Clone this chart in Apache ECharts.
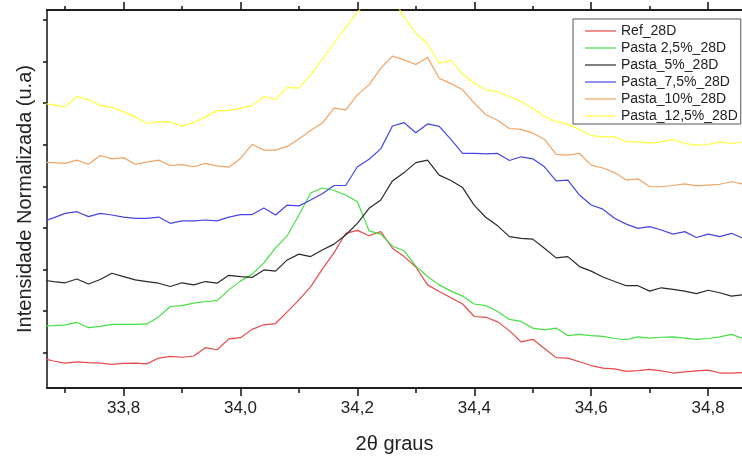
<!DOCTYPE html>
<html>
<head>
<meta charset="utf-8">
<script src="https://cdn.jsdelivr.net/npm/echarts@6/dist/echarts.min.js"></script>
<style>
  html, body { margin: 0; padding: 0; background: #fff; }
  #chart { width: 742px; height: 459px; }
</style>
</head>
<body>
<div id="chart"></div>
<script>
// 2θ positions of the scan (degrees)
const twoTheta = [
  33.66, 33.68, 33.70, 33.72, 33.74, 33.76, 33.78, 33.80, 33.82, 33.84,
  33.86, 33.88, 33.90, 33.92, 33.94, 33.96, 33.98, 34.00, 34.02, 34.04,
  34.06, 34.08, 34.10, 34.12, 34.14, 34.16, 34.18, 34.20, 34.22, 34.24,
  34.26, 34.28, 34.30, 34.32, 34.34, 34.36, 34.38, 34.40, 34.42, 34.44,
  34.46, 34.48, 34.50, 34.52, 34.54, 34.56, 34.58, 34.60, 34.62, 34.64,
  34.66, 34.68, 34.70, 34.72, 34.74, 34.76, 34.78, 34.80, 34.82, 34.84,
  34.86
];

// Normalized intensity (u.a), stacked with an offset per sample
const ref28D = [
  0.87, 0.80, 0.75, 0.78, 0.76, 0.75, 0.72, 0.74, 0.75, 0.73,
  0.87, 0.91, 0.89, 0.92, 1.12, 1.07, 1.33, 1.36, 1.56, 1.67,
  1.70, 1.98, 2.27, 2.58, 3.01, 3.40, 3.87, 3.94, 3.81, 3.91,
  3.51, 3.31, 3.06, 2.63, 2.47, 2.32, 2.17, 1.87, 1.85, 1.74,
  1.53, 1.26, 1.32, 1.10, 0.88, 0.87, 0.78, 0.69, 0.63, 0.61,
  0.55, 0.57, 0.60, 0.56, 0.51, 0.54, 0.56, 0.58, 0.51, 0.51,
  0.52
];
const pasta25 = [
  1.64, 1.65, 1.67, 1.73, 1.60, 1.63, 1.68, 1.68, 1.68, 1.69,
  1.86, 2.11, 2.13, 2.19, 2.23, 2.25, 2.51, 2.72, 2.89, 3.16,
  3.52, 3.81, 4.31, 4.84, 4.96, 4.90, 4.79, 4.63, 3.93, 3.85,
  3.56, 3.45, 3.08, 2.83, 2.63, 2.48, 2.36, 2.17, 2.13, 1.99,
  1.80, 1.75, 1.59, 1.55, 1.59, 1.41, 1.44, 1.41, 1.39, 1.34,
  1.31, 1.38, 1.35, 1.37, 1.38, 1.35, 1.32, 1.34, 1.38, 1.44,
  1.34
];
const pasta5 = [
  2.75, 2.71, 2.68, 2.77, 2.65, 2.76, 2.91, 2.83, 2.75, 2.71,
  2.67, 2.59, 2.68, 2.63, 2.71, 2.67, 2.86, 2.83, 2.81, 2.99,
  2.96, 3.23, 3.37, 3.31, 3.47, 3.61, 3.83, 4.11, 4.47, 4.67,
  5.13, 5.33, 5.57, 5.63, 5.27, 5.14, 4.97, 4.54, 4.25, 4.05,
  3.79, 3.75, 3.73, 3.51, 3.28, 3.31, 3.07, 2.96, 2.82, 2.71,
  2.61, 2.61, 2.48, 2.56, 2.52, 2.48, 2.42, 2.50, 2.44, 2.36,
  2.39
];
const pasta75 = [
  4.15, 4.24, 4.35, 4.39, 4.27, 4.35, 4.31, 4.26, 4.23, 4.23,
  4.26, 4.11, 4.17, 4.17, 4.19, 4.17, 4.26, 4.32, 4.32, 4.48,
  4.31, 4.55, 4.53, 4.67, 4.82, 5.02, 5.02, 5.47, 5.65, 5.90,
  6.45, 6.53, 6.29, 6.50, 6.44, 6.13, 5.79, 5.79, 5.78, 5.79,
  5.62, 5.71, 5.66, 5.47, 5.13, 5.15, 4.79, 4.55, 4.45, 4.23,
  4.09, 3.99, 4.03, 3.95, 3.85, 3.91, 3.77, 3.85, 3.79, 3.87,
  3.75
];
const pasta10 = [
  5.58, 5.57, 5.55, 5.63, 5.53, 5.74, 5.66, 5.69, 5.53, 5.58,
  5.63, 5.50, 5.52, 5.47, 5.55, 5.49, 5.46, 5.67, 6.01, 5.87,
  5.87, 5.96, 6.14, 6.34, 6.52, 6.88, 6.84, 7.20, 7.44, 7.84,
  8.13, 8.04, 7.93, 8.10, 7.60, 7.47, 7.32, 7.00, 6.72, 6.59,
  6.39, 6.37, 6.28, 6.13, 5.77, 5.75, 5.79, 5.51, 5.44, 5.33,
  5.15, 5.18, 4.99, 4.99, 5.02, 5.06, 5.01, 5.03, 5.05, 5.11,
  5.05
];
const pasta125 = [
  7.00, 6.96, 6.91, 7.16, 7.09, 6.94, 6.90, 6.79, 6.67, 6.51,
  6.55, 6.55, 6.45, 6.53, 6.67, 6.82, 6.82, 6.88, 6.94, 7.16,
  7.09, 7.38, 7.36, 7.68, 8.06, 8.44, 8.82, 9.19, 9.48, 9.67,
  9.53, 9.07, 8.68, 8.43, 7.96, 8.03, 7.70, 7.48, 7.32, 7.28,
  7.16, 7.04, 6.87, 6.68, 6.56, 6.49, 6.37, 6.22, 6.19, 6.19,
  6.07, 6.07, 6.04, 6.07, 6.13, 6.03, 5.99, 6.00, 6.07, 6.03,
  6.07
];

const seriesNames = ['Ref_28D', 'Pasta 2,5%_28D', 'Pasta_5%_28D', 'Pasta_7,5%_28D', 'Pasta_10%_28D', 'Pasta_12,5%_28D'];
const seriesValues = [ref28D, pasta25, pasta5, pasta75, pasta10, pasta125];
const seriesColors = ['#e84a4a', '#45e045', '#2a2a2a', '#4646e6', '#f0a466', '#ffff3c'];

// axis ranges and tick positions
const xMin = 33.669, xMax = 34.858;
const yMin = 0.15, yMax = 9.24;
const xMajorTicks = [33.8, 34.0, 34.2, 34.4, 34.6, 34.8];
const xMinorTicks = [33.7, 33.9, 34.1, 34.3, 34.5, 34.7];
const yTicks = [1, 2, 3, 4, 5, 6, 7, 8, 9];

const FONT = '"Liberation Sans", Arial, sans-serif';
const axisColor = '#111';

function makeXAxis(position, ticks, len, withLabels) {
  const ax = {
    type: 'value',
    position: position,
    min: xMin,
    max: xMax,
    axisLine: { show: true, lineStyle: { color: axisColor, width: 1.5 } },
    axisTick: { show: true, inside: false, length: len, customValues: ticks, lineStyle: { color: axisColor, width: 1.5 } },
    axisLabel: { show: false },
    splitLine: { show: false }
  };
  if (withLabels) {
    ax.axisLabel = {
      show: true,
      customValues: ticks,
      margin: 12,
      fontSize: 17,
      fontFamily: FONT,
      color: '#222',
      formatter: v => v.toFixed(1).replace('.', ',')
    };
    ax.name = '2\u03b8 graus';
    ax.nameLocation = 'middle';
    ax.nameGap = 46;
    ax.nameTextStyle = { fontSize: 20, fontFamily: FONT, color: '#222' };
  }
  return ax;
}

const chart = echarts.init(document.getElementById('chart'), null, { renderer: 'canvas' });

chart.setOption({
  backgroundColor: '#fff',
  animation: false,
  grid: { left: 47, right: 0, top: 10, bottom: 71, containLabel: false, outerBoundsMode: 'none' },
  legend: {
    orient: 'vertical',
    left: 573,
    top: 19,
    padding: [5, 3, 1, 12],
    itemGap: 3,
    itemWidth: 31,
    itemHeight: 14,
    icon: 'path://M0,0H31V1.2H0Z',
    symbolKeepAspect: true,
    backgroundColor: '#fff',
    borderColor: '#555',
    borderWidth: 1,
    textStyle: { fontSize: 14, fontFamily: FONT, color: '#222', lineHeight: 14 },
    data: seriesNames
  },
  xAxis: [
    makeXAxis('bottom', xMajorTicks, 8, true),
    makeXAxis('bottom', xMinorTicks, 5, false),
    makeXAxis('top', xMajorTicks, 8, false),
    makeXAxis('top', xMinorTicks, 4, false)
  ],
  yAxis: {
    type: 'value',
    min: yMin,
    max: yMax,
    axisLine: { show: true, lineStyle: { color: axisColor, width: 1.5 } },
    axisTick: { show: true, inside: false, length: 4, customValues: yTicks, lineStyle: { color: axisColor, width: 1.5 } },
    axisLabel: { show: false },
    splitLine: { show: false },
    name: 'Intensidade Normalizada (u.a)',
    nameLocation: 'middle',
    nameGap: 12,
    nameTextStyle: { fontSize: 20, fontFamily: FONT, color: '#222' }
  },
  series: seriesNames.map((name, i) => ({
    name: name,
    type: 'line',
    xAxisIndex: 0,
    yAxisIndex: 0,
    symbol: 'none',
    showSymbol: false,
    clip: true,
    color: seriesColors[i],
    lineStyle: { color: seriesColors[i], width: 1.2 },
    data: twoTheta.map((x, k) => [x, seriesValues[i][k]])
  }))
});
</script>
</body>
</html>
